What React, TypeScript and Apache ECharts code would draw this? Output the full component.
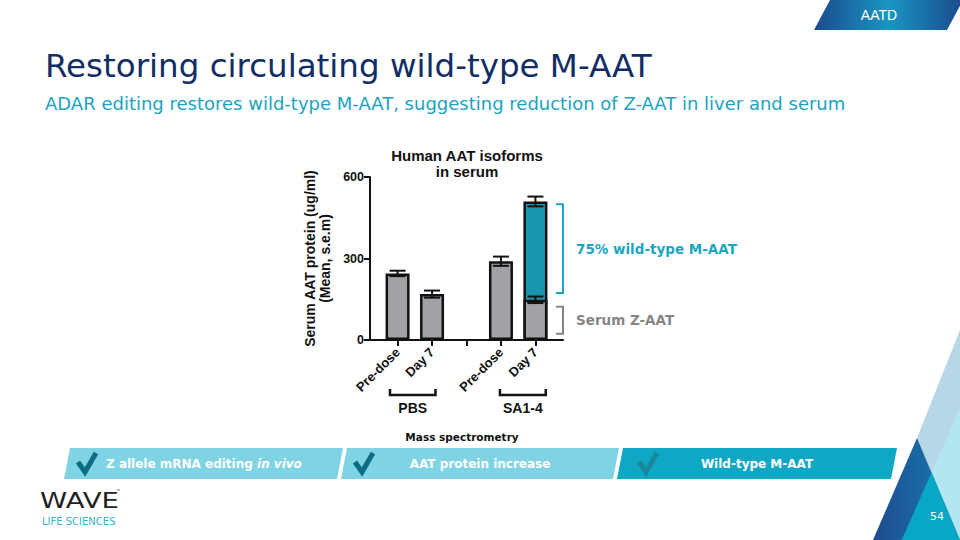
import React, { useEffect, useRef } from 'react';
import * as echarts from 'echarts';

// ---- data ----
const categories = ['Pre-dose', 'Day 7', '', 'Pre-dose', 'Day 7'];
const zAAT = [245, 169, null, 290, 148];
const wildTypeMAAT = [0, 0, null, 0, 362];
const semTotal = [10, 13, null, 17, 18];
const semZ = [null, null, null, null, 12];
const yTicks = [0, 300, 600];
const groupNames = ['PBS', 'SA1-4'];
const groupSpans = [[-0.22, 1.1], [2.97, 4.3]];
const bracketLabels = ['75% wild-type M-AAT', 'Serum Z-AAT'];
const bracketRanges = [[173, 500], [23, 122]];
const bannerLabels = ['Z allele mRNA editing {i|in vivo}', 'AAT protein increase', 'Wild-type M-AAT'];

const X_MIN = -0.8;
const X_MAX = 4.8;

const ARIAL = '"Liberation Sans", Arial, sans-serif';
const VERD = '"DejaVu Sans", Verdana, sans-serif';
const TEAL = '#1896b0';
const GRAY = '#a2a1a6';
const INK = '#111111';

function buildOption() {
  const grayData: any[] = [];
  const tealData: any[] = [];
  const errData: any[] = [];
  categories.forEach((_, i) => {
    const z = zAAT[i];
    if (z == null) return;
    const w = wildTypeMAAT[i] || 0;
    grayData.push([i, z]);
    if (w > 0) tealData.push([i, z + w]);
    if (semTotal[i] != null) errData.push([i, z + w, semTotal[i]]);
    if (semZ[i] != null) errData.push([i, z, semZ[i]]);
  });

  const labeledTicks = categories.map((c, i) => (c ? i : null)).filter((v) => v != null);
  const allTicks = categories.map((_, i) => i);

  const bannerStarts = [70, 347, 623];
  const bannerEnds = [343, 619, 897];
  const bannerFills = ['#7fd3e3', '#7fd3e3', '#0fa8c4'];
  const checkColors = ['#0c6d85', '#0c6d85', '#18869c'];
  const checkOffsets = [8, 8, 16];

  const graphics: any[] = [];
  // title & subtitle
  graphics.push({
    type: 'text', x: 45, y: 66,
    style: { text: 'Restoring circulating wild-type M-AAT', fontFamily: VERD, fontSize: 32.5, fill: '#112d66', textVerticalAlign: 'middle' },
  });
  graphics.push({
    type: 'text', x: 45, y: 103,
    style: { text: 'ADAR editing restores wild-type M-AAT, suggesting reduction of Z-AAT in liver and serum', fontFamily: VERD, fontSize: 18, fill: '#1ba3c0', textVerticalAlign: 'middle' },
  });
  // tag
  graphics.push({
    type: 'polygon',
    shape: { points: [[830, 0], [963, 0], [947, 30], [814, 30]] },
    style: {
      fill: new echarts.graphic.LinearGradient(0, 0, 1, 0, [
        { offset: 0, color: '#1b4a8c' },
        { offset: 0.5, color: '#1996c2' },
        { offset: 1, color: '#1b4a8c' },
      ]),
    },
  });
  graphics.push({
    type: 'text', x: 879, y: 15,
    style: { text: 'AATD', fontFamily: ARIAL, fontSize: 14, fill: '#ffffff', textAlign: 'center', textVerticalAlign: 'middle' },
  });
  // mass spectrometry
  graphics.push({
    type: 'text', x: 462, y: 437,
    style: { text: 'Mass spectrometry', fontFamily: VERD, fontWeight: 'bold', fontSize: 10.5, fill: INK, textAlign: 'center', textVerticalAlign: 'middle' },
  });
  // banner
  bannerStarts.forEach((s, i) => {
    const e = bannerEnds[i];
    graphics.push({
      type: 'polygon',
      shape: { points: [[s, 448], [e, 448], [e - 6, 479], [s - 6, 479]] },
      style: { fill: bannerFills[i] },
    });
    const cx = s + checkOffsets[i];
    graphics.push({
      type: 'polyline',
      shape: { points: [[cx, 462], [cx + 7, 472], [cx + 18, 453]] },
      style: { stroke: checkColors[i], lineWidth: 5, fill: 'none', lineJoin: 'miter' },
    });
  });
  graphics.push({
    type: 'text', x: 106, y: 464,
    style: {
      text: bannerLabels[0], fontFamily: VERD, fontWeight: 'bold', fontSize: 12, fill: '#ffffff', textVerticalAlign: 'middle',
      rich: { i: { fontFamily: VERD, fontWeight: 'bold', fontStyle: 'italic', fontSize: 12, fill: '#ffffff' } },
    },
  });
  graphics.push({
    type: 'text', x: 480, y: 464,
    style: { text: bannerLabels[1], fontFamily: VERD, fontWeight: 'bold', fontSize: 12, fill: '#ffffff', textAlign: 'center', textVerticalAlign: 'middle' },
  });
  graphics.push({
    type: 'text', x: 757, y: 464,
    style: { text: bannerLabels[2], fontFamily: VERD, fontWeight: 'bold', fontSize: 12, fill: '#ffffff', textAlign: 'center', textVerticalAlign: 'middle' },
  });
  // bottom-right decoration
  graphics.push({ type: 'polygon', shape: { points: [[917, 438], [960, 330], [960, 540]] }, style: { fill: '#b7d6e6' } });
  graphics.push({ type: 'polygon', shape: { points: [[931.5, 472.4], [960, 408], [960, 540]] }, style: { fill: '#b3e7f0' } });
  graphics.push({
    type: 'polygon', shape: { points: [[917, 438], [873, 540], [960, 540]] },
    style: {
      fill: new echarts.graphic.LinearGradient(0, 0, 1, 0, [
        { offset: 0, color: '#1f4b8e' },
        { offset: 1, color: '#1680b4' },
      ]),
    },
  });
  graphics.push({ type: 'polygon', shape: { points: [[931.5, 472.4], [901.7, 540], [960, 540]] }, style: { fill: '#08a7c5' } });
  graphics.push({
    type: 'text', x: 937, y: 516,
    style: { text: '54', fontFamily: VERD, fontSize: 11, fill: '#ffffff', textAlign: 'center', textVerticalAlign: 'middle' },
  });
  // logo
  graphics.push({
    type: 'text', x: 40, y: 500, scaleX: 1.25,
    style: { text: 'WAVE', fontFamily: VERD, fontWeight: 'normal', fontSize: 22, fill: '#222222', textVerticalAlign: 'middle' },
  });
  graphics.push({
    type: 'text', x: 116, y: 491,
    style: { text: '™', fontFamily: VERD, fontSize: 5, fill: '#222222', textVerticalAlign: 'middle' },
  });
  graphics.push({
    type: 'text', x: 42, y: 521,
    style: { text: 'LIFE SCIENCES', fontFamily: VERD, fontSize: 10, fill: '#3ab2cb', textVerticalAlign: 'middle' },
  });

  return {
    animation: false,
    backgroundColor: '#ffffff',
    title: {
      text: 'Human AAT isoforms\nin serum',
      left: 462,
      top: 142,
      textAlign: 'center',
      textStyle: { fontFamily: ARIAL, fontWeight: 'bold', fontSize: 15, color: INK, lineHeight: 16 },
    },
    grid: { left: 370, top: 177, width: 193, height: 163 },
    xAxis: {
      type: 'value',
      min: X_MIN,
      max: X_MAX,
      splitLine: { show: false },
      axisLine: { show: true, onZero: false, lineStyle: { color: INK, width: 2 } },
      axisTick: { show: true, customValues: allTicks, length: 6, lineStyle: { color: INK, width: 2 } },
      axisLabel: {
        show: true,
        customValues: labeledTicks,
        formatter: (v: number) => categories[Math.round(v)] || '',
        rotate: 45,
        margin: 10,
        fontFamily: ARIAL,
        fontWeight: 'bold',
        fontSize: 13,
        color: INK,
      },
    },
    yAxis: {
      type: 'value',
      min: yTicks[0],
      max: yTicks[yTicks.length - 1],
      interval: yTicks[1] - yTicks[0],
      splitLine: { show: false },
      axisLine: { show: true, onZero: false, lineStyle: { color: INK, width: 2 } },
      axisTick: { show: true, length: 6, lineStyle: { color: INK, width: 2 } },
      axisLabel: { fontFamily: ARIAL, fontWeight: 'bold', fontSize: 12.5, color: INK, margin: 6 },
      name: 'Serum AAT protein (ug/ml)\n(Mean, s.e.m)',
      nameLocation: 'middle',
      nameGap: 38,
      nameTextStyle: { fontFamily: ARIAL, fontWeight: 'bold', fontSize: 14, color: INK, lineHeight: 15 },
    },
    series: [
      {
        name: 'Wild-type M-AAT',
        type: 'bar',
        data: tealData,
        barWidth: 24,
        barGap: '-100%',
        itemStyle: { color: TEAL, borderColor: INK, borderWidth: 2.5 },
        z: 2,
      },
      {
        name: 'Z-AAT',
        type: 'bar',
        data: grayData,
        barWidth: 24,
        barGap: '-100%',
        itemStyle: { color: GRAY, borderColor: INK, borderWidth: 2.5 },
        z: 3,
      },
      {
        name: 'SEM',
        type: 'custom',
        z: 5,
        clip: false,
        encode: { x: 0, y: 1 },
        data: errData,
        renderItem: (params: any, api: any) => {
          const x = api.value(0);
          const m = api.value(1);
          const e = api.value(2);
          const top = api.coord([x, m + e]);
          const bot = api.coord([x, m - e]);
          const hw = 8;
          const st = { stroke: INK, lineWidth: 2 };
          return {
            type: 'group',
            children: [
              { type: 'line', shape: { x1: top[0], y1: top[1], x2: bot[0], y2: bot[1] }, style: st },
              { type: 'line', shape: { x1: top[0] - hw, y1: top[1], x2: top[0] + hw, y2: top[1] }, style: st },
              { type: 'line', shape: { x1: bot[0] - hw, y1: bot[1], x2: bot[0] + hw, y2: bot[1] }, style: st },
            ],
          };
        },
      },
      {
        name: 'Groups',
        type: 'custom',
        z: 5,
        clip: false,
        encode: { x: 0, y: 2 },
        data: groupSpans.map((g, i) => [g[0], g[1], 0, i]),
        renderItem: (params: any, api: any) => {
          const a = api.coord([api.value(0), 0]);
          const b = api.coord([api.value(1), 0]);
          const y = a[1] + 55;
          const idx = api.value(3);
          return {
            type: 'group',
            children: [
              {
                type: 'polyline',
                shape: { points: [[a[0], y - 6], [a[0], y], [b[0], y], [b[0], y - 6]] },
                style: { stroke: INK, lineWidth: 2.5, fill: 'none' },
              },
              {
                type: 'text',
                x: (a[0] + b[0]) / 2,
                y: y + 13,
                style: {
                  text: groupNames[idx],
                  fontFamily: ARIAL, fontWeight: 'bold', fontSize: 14, fill: INK,
                  textAlign: 'center', textVerticalAlign: 'middle',
                },
              },
            ],
          };
        },
      },
      {
        name: 'Brackets',
        type: 'custom',
        z: 5,
        clip: false,
        encode: { x: 0, y: 1 },
        data: bracketRanges.map((r, i) => [X_MAX, r[0], r[1], i]),
        renderItem: (params: any, api: any) => {
          const idx = api.value(3);
          const lo = api.coord([api.value(0), api.value(1)]);
          const hi = api.coord([api.value(0), api.value(2)]);
          const color = idx === 0 ? '#1aa6c1' : '#858585';
          const x = lo[0];
          return {
            type: 'group',
            children: [
              {
                type: 'polyline',
                shape: { points: [[x - 7, hi[1]], [x, hi[1]], [x, lo[1]], [x - 7, lo[1]]] },
                style: { stroke: color, lineWidth: 2, fill: 'none' },
              },
              {
                type: 'text',
                x: x + 13,
                y: (hi[1] + lo[1]) / 2,
                style: {
                  text: bracketLabels[idx],
                  fontFamily: VERD, fontWeight: 'bold', fontSize: 13.5, fill: color,
                  textVerticalAlign: 'middle',
                },
              },
            ],
          };
        },
      },
    ],
    graphic: { elements: graphics },
  };
}

export default function App() {
  const ref = useRef<HTMLDivElement>(null);
  useEffect(() => {
    if (!ref.current) return;
    const chart = echarts.init(ref.current, null, { renderer: 'svg' });
    chart.setOption(buildOption() as any);
    return () => chart.dispose();
  }, []);
  return (
    <div
      ref={ref}
      style={{ position: 'fixed', left: 0, top: 0, width: 960, height: 540, background: '#ffffff' }}
    />
  );
}
